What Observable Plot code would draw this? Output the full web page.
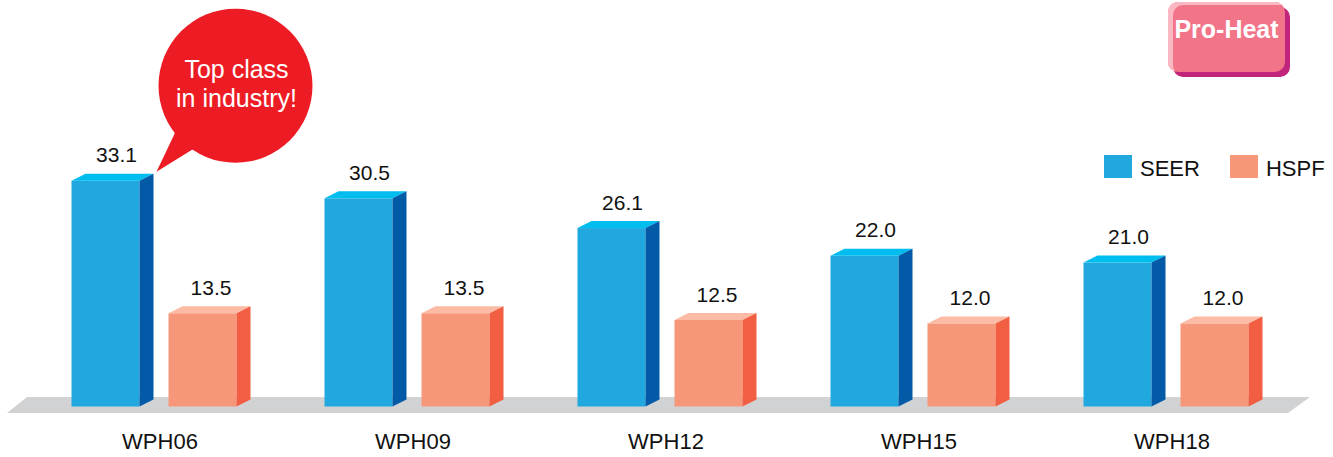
<!DOCTYPE html>
<html>
<head>
<meta charset="utf-8">
<script src="https://cdn.jsdelivr.net/npm/d3@7"></script>
<script src="https://cdn.jsdelivr.net/npm/@observablehq/plot@0.6"></script>
<style>
  html, body { margin: 0; padding: 0; background: #fff; }
  #chart { position: relative; width: 1333px; height: 457px; font-family: "Liberation Sans", Arial, Helvetica, sans-serif; }
  #chart svg { display: block; }
  #legend { position: absolute; left: 1104px; top: 155px; display: flex; gap: 30px; font-size: 22px; color: #111; }
  #legend .item { display: flex; align-items: flex-start; }
  #legend .swatch { width: 28px; height: 23px; margin-right: 8px; }
  #legend .name { line-height: 23px; padding-top: 2px; }
  #badge {
    position: absolute; left: 1168px; top: 2px; width: 117px; height: 70px;
    box-sizing: border-box; padding-top: 15px;
    background: #f27488; border-radius: 10px;
    box-shadow: inset 5px 3px 0 #f9b8c2, 5px 5px 0 #c1247b;
    color: #fff; font-weight: bold; font-size: 25px; line-height: 25px; text-align: center;
  }
</style>
</head>
<body>
<div id="chart"></div>
<script>
// Efficiency ratings per model
const models = ["WPH06", "WPH09", "WPH12", "WPH15", "WPH18"];
const seer = [33.1, 30.5, 26.1, 22.0, 21.0];
const hspf = [13.5, 13.5, 12.5, 12.0, 12.0];
const metrics = ["SEER", "HSPF"];
const badgeText = "Pro-Heat";
const calloutLines = ["Top class", "in industry!"];

// Face colours for the extruded bars
const palette = {
  SEER: {front: "#20a8df", top: "#00bdf0", side: "#035ba8"},
  HSPF: {front: "#f7977a", top: "#fbbba4", side: "#f15e41"}
};

const rows = models.flatMap((model, i) => [
  {model, metric: "SEER", value: seer[i]},
  {model, metric: "HSPF", value: hspf[i]}
]);

// Bar geometry in pixels: front face width, extrusion depth, offset from group centre
const FACE = 68, DX = 14, DY = 7;
const offset = {SEER: -89.5, HSPF: 7.5};
const labelDx = {SEER: -45, HSPF: 49.5};

const pts = (a) => a.map((p) => p.join(",")).join(" ");

// Grey floor plate under all groups
const floor = Plot.dot([models[0], models[models.length - 1]], {
  x: (d) => d, y: () => 0,
  render(index, scales, values) {
    const xa = values.x[0], xb = values.x[1], y0 = values.y[0];
    const g = d3.create("svg:g");
    g.append("polygon")
      .attr("points", pts([[xa - 134, y0 - 7.5], [xb + 137, y0 - 7.5], [xb + 115, y0 + 8.5], [xa - 154, y0 + 8.5]]))
      .attr("fill", "#d1d2d4");
    return g.node();
  }
});

// Extruded bars: front, top and side faces from the x/y scales
const bars = Plot.dot(rows, {
  x: "model", y: "value",
  render(index, scales, values) {
    const g = d3.create("svg:g");
    const base = scales.y(0) + 2;
    for (const i of index) {
      const d = rows[i];
      const c = palette[d.metric];
      const left = values.x[i] + offset[d.metric];
      const right = left + FACE;
      const top = values.y[i];
      g.append("rect").attr("x", left).attr("y", top).attr("width", FACE).attr("height", base - top).attr("fill", c.front);
      g.append("polygon").attr("points", pts([[left, top], [left + DX, top - DY], [right + DX, top - DY], [right, top]])).attr("fill", c.top);
      g.append("polygon").attr("points", pts([[right, top], [right + DX, top - DY], [right + DX, base - DY], [right, base]])).attr("fill", c.side);
    }
    return g.node();
  }
});

// Speech-bubble callout pointing at the highest SEER bar
const best = rows.filter((d) => d.metric === "SEER").reduce((a, b) => (b.value > a.value ? b : a));
const callout = Plot.dot([best], {
  x: "model", y: "value",
  render(index, scales, values) {
    const i = index[0];
    const tx = values.x[i] - 4.5, ty = values.y[i] - 9;
    const cx = tx + 79, cy = ty - 86, r = 77;
    const at = (deg) => [cx + r * Math.cos(deg * Math.PI / 180), cy + r * Math.sin(deg * Math.PI / 180)];
    const g = d3.create("svg:g");
    g.append("polygon").attr("points", pts([[tx, ty], at(142), [cx, cy], at(124)])).attr("fill", "#ed1c24");
    g.append("circle").attr("cx", cx).attr("cy", cy).attr("r", r).attr("fill", "#ed1c24");
    calloutLines.forEach((line, k) => {
      g.append("text").attr("x", cx + 1).attr("y", cy - 7.5 + k * 28.5)
        .attr("text-anchor", "middle").attr("fill", "#fff").attr("font-size", 25).text(line);
    });
    return g.node();
  }
});

const valueLabels = metrics.map((m) => Plot.text(rows.filter((d) => d.metric === m), {
  x: "model", y: "value", text: (d) => d.value.toFixed(1),
  dx: labelDx[m], dy: -19, lineAnchor: "bottom", fontSize: 21, fill: "#111"
}));

const chart = Plot.plot({
  width: 1333,
  height: 457,
  marginTop: 0, marginRight: 0, marginLeft: 0, marginBottom: 30,
  style: {fontFamily: "'Liberation Sans', Arial, Helvetica, sans-serif", background: "#fff", overflow: "visible"},
  x: {type: "point", domain: models, range: [161, 1173.3], padding: 0},
  y: {domain: [0, 40], range: [404.5, 134.1], axis: null},
  marks: [
    floor,
    bars,
    ...valueLabels,
    Plot.axisX({tickSize: 0, tickPadding: 6, fontSize: 22, label: null, dx: -1.5, fill: "#111"}),
    callout
  ]
});

const root = document.getElementById("chart");
root.appendChild(chart);

// Series legend
const legend = document.createElement("div");
legend.id = "legend";
for (const m of metrics) {
  const item = document.createElement("div");
  item.className = "item";
  const sw = document.createElement("div");
  sw.className = "swatch";
  sw.style.background = palette[m].front;
  const name = document.createElement("div");
  name.className = "name";
  name.textContent = m;
  item.append(sw, name);
  legend.appendChild(item);
}
root.appendChild(legend);

// Product badge
const badge = document.createElement("div");
badge.id = "badge";
badge.textContent = badgeText;
root.appendChild(badge);
</script>
</body>
</html>
